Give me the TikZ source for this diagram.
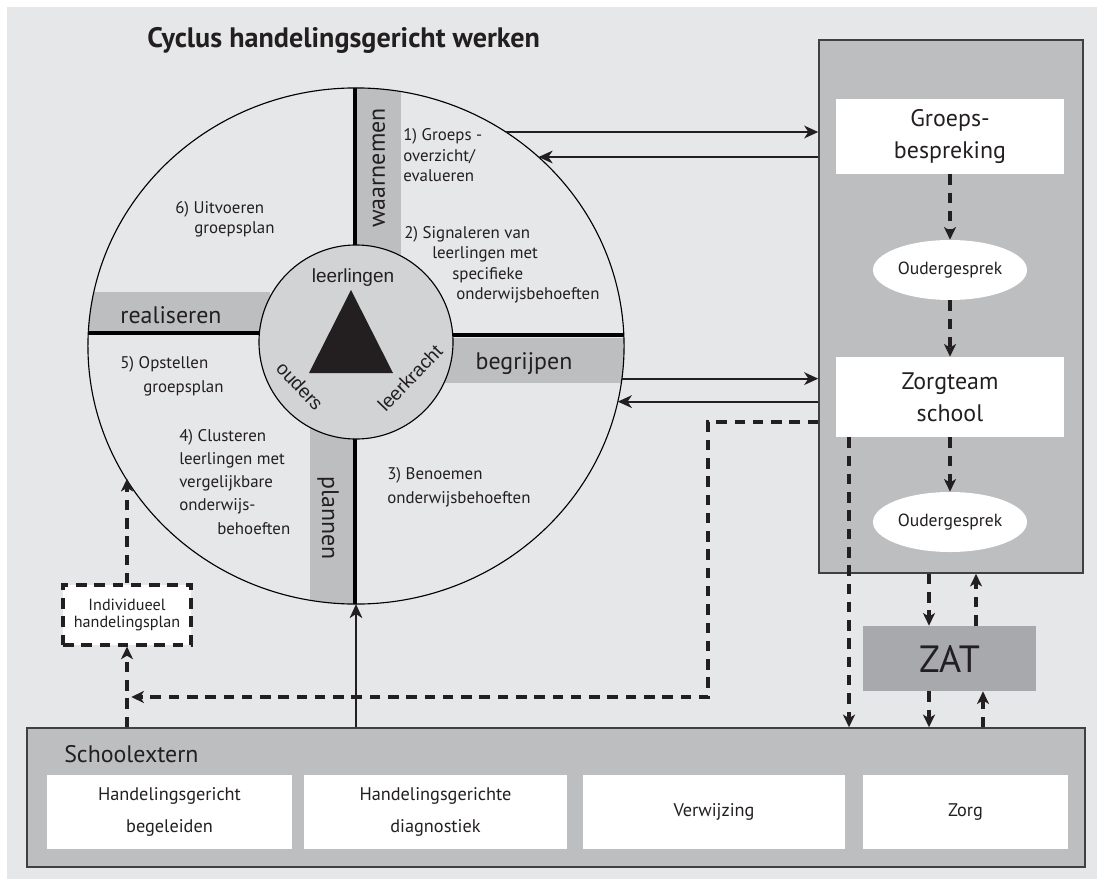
\documentclass[tikz,border=0pt]{standalone}
\usepackage{fontspec}
\setmainfont{PT Sans}
\newfontfamily\arialfont{Liberation Sans}
\usetikzlibrary{arrows.meta,positioning,calc,shapes.geometric}

\definecolor{bggray}{HTML}{E6E7E8}
\definecolor{bandgray}{HTML}{BCBEC0}
\definecolor{hubgray}{HTML}{D1D3D4}
\definecolor{zatgray}{HTML}{A7A9AC}
\definecolor{ink}{HTML}{231F20}
\definecolor{rimgray}{HTML}{404041}

\begin{document}
\begin{tikzpicture}[x=0.025cm, y=-0.025cm,
  every node/.style={text=ink},
  flow/.style={-{Stealth[length=10pt,width=9pt,inset=3pt]}, line width=1.6pt, draw=ink},
  dashflow/.style={-{Stealth[length=9pt,width=8.5pt,inset=2.5pt]}, line width=2.2pt, draw=ink, dash pattern=on 7.5pt off 5.5pt},
  band/.style={fill=bandgray},
  divider/.style={line width=3pt, draw=black},
  bandlabel/.style={font=\fontsize{17}{20}\selectfont},
  steptext/.style={font=\fontsize{12}{14.6}\selectfont, align=left, anchor=base west, inner sep=0},
  hublabel/.style={font=\arialfont\fontsize{13.5}{16}\selectfont, inner sep=0},
  whitebox/.style={rectangle, fill=white, inner sep=0, align=center},
  oval/.style={ellipse, fill=white, minimum width=3.85cm, minimum height=1.5cm, inner sep=0, font=\fontsize{12.5}{14}\selectfont},
  graybox/.style={rectangle, draw=rimgray, fill=bandgray, line width=1pt, inner sep=0}]

\useasboundingbox (0,0) rectangle (1097,879);
\fill[bggray] (7,7) rectangle (1097,879);

% title
\node[font=\bfseries\fontsize{20}{24}\selectfont, anchor=base west, inner sep=0, name=title] at (147,48) {Cyclus handelingsgericht werken};

% bands and dividers of the cycle
\begin{scope}
\clip (356,346) ellipse [x radius=6.7cm, y radius=6.45cm];
\fill[band] (357,80) rectangle (401,260);
\fill[band] (440,338) rectangle (640,383);
\fill[band] (310,420) rectangle (353,620);
\fill[band] (70,292) rectangle (270,331);
\draw[divider] (355,80) -- (355,260);
\draw[divider] (355,420) -- (355,620);
\draw[divider] (440,335) -- (640,335);
\draw[divider] (70,333) -- (270,333);
\end{scope}

% hub with triangle
\node[circle, draw, fill=hubgray, line width=0.8pt, minimum size=4.85cm, inner sep=0, name=hub] at (356,342) {};
\fill[ink] (351,290) -- (393,373) -- (309,373) -- cycle;

% outer ring
\node[ellipse, draw, line width=0.8pt, minimum width=13.4cm, minimum height=12.9cm, inner sep=0, outer sep=0, name=cycle_ring] at (356,346) {};

% band labels
\node[bandlabel, rotate=90, name=waarnemen] at (379,168) {waarnemen};
\node[bandlabel, rotate=-90, name=plannen] at (328,518) {plannen};
\node[bandlabel, name=realiseren] at (171,315) {realiseren};
\node[bandlabel, name=begrijpen] at (524,364) {begrijpen};

% hub labels
\node[hublabel, name=leerlingen] at (353,278) {leerlingen};
\node[hublabel, rotate=-47, name=ouders] at (300,386) {ouders};
\node[hublabel, rotate=46, name=leerkracht] at (410,378) {leerkracht};

% steps (anchored at the baseline of their last line)
\node[steptext, name=step_one] at (403,182) {1) Groeps -\\overzicht/\\evalueren};
\node[steptext, name=step_two] at (404,300) {2) Signaleren van\\\hspace*{0.7cm}leerlingen met\\\hspace*{1.2cm}specifieke\\\hspace*{1.3cm}onderwijsbehoeften};
\node[steptext, name=step_three, font=\fontsize{12}{17}\selectfont] at (387,503) {3) Benoemen\\onderwijsbehoeften};
\node[steptext, name=step_four, font=\fontsize{12}{16.5}\selectfont] at (179,534) {4) Clusteren\\leerlingen met\\vergelijkbare\\onderwijs-\\\hspace*{0.95cm}behoeften};
\node[steptext, name=step_five, font=\fontsize{12}{16.5}\selectfont] at (120,392) {5) Opstellen\\\hspace*{0.575cm}groepsplan};
\node[steptext, name=step_six] at (175,234) {6) Uitvoeren\\\hspace*{0.475cm}groepsplan};

% right panel
\node[graybox, minimum width=6.6cm, minimum height=13.325cm, name=zorg_panel] at (951,306.5) {};
\node[whitebox, minimum width=5.675cm, minimum height=1.875cm, font=\fontsize{17}{22.7}\selectfont, name=groeps_box] at (950,136.5) {Groeps-\\bespreking};
\node[oval, name=ouder_one] at (950,270) {Oudergesprek};
\node[whitebox, minimum width=5.675cm, minimum height=2cm, font=\fontsize{17}{22.7}\selectfont, name=zorg_box] at (950,397) {Zorgteam\\school};
\node[oval, name=ouder_two] at (950,522) {Oudergesprek};

% ZAT
\node[rectangle, fill=zatgray, minimum width=4.325cm, minimum height=1.625cm, font=\fontsize{27}{30}\selectfont, name=zat_box] at (949.5,658.5) {ZAT};

% schoolextern bar
\node[graybox, minimum width=26.45cm, minimum height=3.475cm, name=extern_bar] at (556,797.5) {};
\node[font=\fontsize{17}{20}\selectfont, anchor=base west, inner sep=0, name=extern_label] at (64,762) {Schoolextern};
\node[whitebox, minimum width=6.125cm, minimum height=1.85cm, font=\fontsize{13}{23.4}\selectfont, name=begeleiden] at (169.5,812) {Handelingsgericht\\begeleiden};
\node[whitebox, minimum width=6.575cm, minimum height=1.85cm, font=\fontsize{13}{23.4}\selectfont, name=diagnostiek] at (435.5,812) {Handelingsgerichte\\diagnostiek};
\node[whitebox, minimum width=6.55cm, minimum height=1.85cm, font=\fontsize{13}{15}\selectfont, name=verwijzing] at (714,812) {Verwijzing};
\node[whitebox, minimum width=5.125cm, minimum height=1.85cm, font=\fontsize{13}{15}\selectfont, name=zorg] at (965.5,812) {Zorg};

% individueel handelingsplan
\node[rectangle, fill=white, draw=ink, line width=2.2pt, dash pattern=on 7.5pt off 5.5pt, minimum width=3.2cm, minimum height=1.5cm, inner sep=0, align=center, font=\fontsize{11.5}{12.5}\selectfont, name=indiv_plan] at (127,615) {Individueel\\handelingsplan};

% arrows cycle <-> panel
\draw[flow] (cycle_ring.55) -- (cycle_ring.55 -| zorg_panel.west);
\draw[flow] (cycle_ring.46 -| zorg_panel.west) -- (cycle_ring.46);
\draw[flow] (cycle_ring.-7) -- (cycle_ring.-7 -| zorg_panel.west);
\draw[flow] (cycle_ring.-12 -| zorg_panel.west) -- (cycle_ring.-12);

% arrows inside panel
\draw[dashflow] (groeps_box) -- (ouder_one);
\draw[dashflow] (ouder_one) -- (zorg_box);
\draw[dashflow] (zorg_box) -- (ouder_two);

% dashed route to individueel plan
\coordinate (route_bend) at (708,697);
\coordinate (route_end) at (127,697);
\draw[dashflow] (zorg_panel.west |- 0,422) -| (route_bend) -- ([xshift=3pt]route_end);
\draw[dashflow] (extern_bar.north -| indiv_plan.south) -- (indiv_plan.south);
\draw[dashflow] (indiv_plan.north) -- (indiv_plan.north |- cycle_ring.210);
\draw[flow] (extern_bar.north -| cycle_ring.south) -- (cycle_ring.south);

% zorgteam, ZAT and schoolextern
\draw[dashflow] (zorg_box.south -| 849,0) -- (extern_bar.north -| 849,0);
\draw[dashflow] (zorg_panel.south -| 929,0) -- (zat_box.north -| 929,0);
\draw[dashflow] (zat_box.north -| 976,0) -- (zorg_panel.south -| 976,0);
\draw[dashflow] (zat_box.south -| 929,0) -- (extern_bar.north -| 929,0);
\draw[dashflow] (extern_bar.north -| 983,0) -- (zat_box.south -| 983,0);
\end{tikzpicture}
\end{document}
